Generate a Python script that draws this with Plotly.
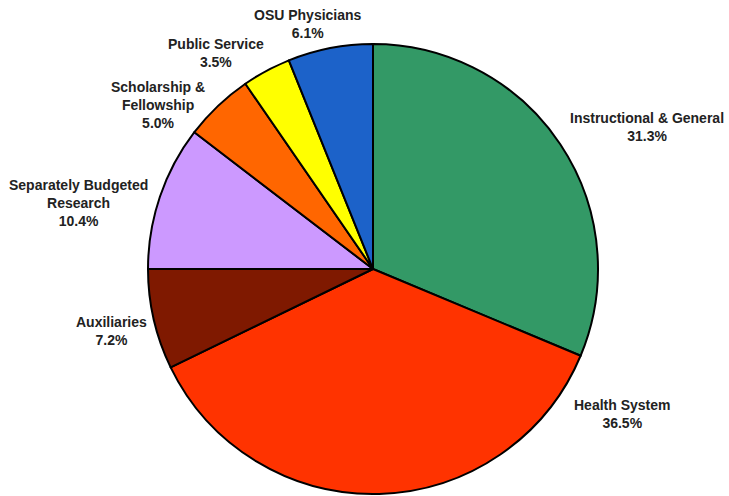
import plotly.graph_objects as go

# Budget shares by fund group (percent of total), clockwise from 12 o'clock
categories = [
    "Instructional & General",
    "Health System",
    "Auxiliaries",
    "Separately Budgeted<br>Research",
    "Scholarship &<br>Fellowship",
    "Public Service",
    "OSU Physicians",
]
shares = [31.3, 36.5, 7.2, 10.4, 5.0, 3.5, 6.1]
colors = ["#339966", "#FF3300", "#7F1900", "#CC99FF", "#FF6600", "#FFFF00", "#1C62C9"]

W, H = 729, 496

# Pie placement in pixels (centre and radius)
cx, cy, r = 373, 269, 225

# Label centres in pixels, one per slice
label_xy = [(647, 127), (622, 414), (111, 331), (78, 203), (158, 105), (216, 53), (308, 24)]

fig = go.Figure(
    go.Pie(
        labels=categories,
        values=shares,
        sort=False,
        direction="clockwise",
        rotation=0,
        marker=dict(colors=colors, line=dict(color="#000000", width=2)),
        textinfo="none",
        hoverinfo="label+percent",
        showlegend=False,
        domain=dict(
            x=[(cx - r) / W, (cx + r) / W],
            y=[(H - cy - r) / H, (H - cy + r) / H],
        ),
    )
)

for name, val, (px, py) in zip(categories, shares, label_xy):
    fig.add_annotation(
        x=px / W,
        y=(H - py) / H,
        xref="paper",
        yref="paper",
        text=f"<b>{name}<br>{val:.1f}%</b>",
        showarrow=False,
        xanchor="center",
        yanchor="middle",
        align="center",
        font=dict(family="Liberation Sans, Arial, sans-serif", size=14, color="#222222"),
    )

fig.update_layout(
    width=W,
    height=H,
    margin=dict(l=0, r=0, t=0, b=0),
    paper_bgcolor="white",
    plot_bgcolor="white",
)

fig.write_html("out.html")
